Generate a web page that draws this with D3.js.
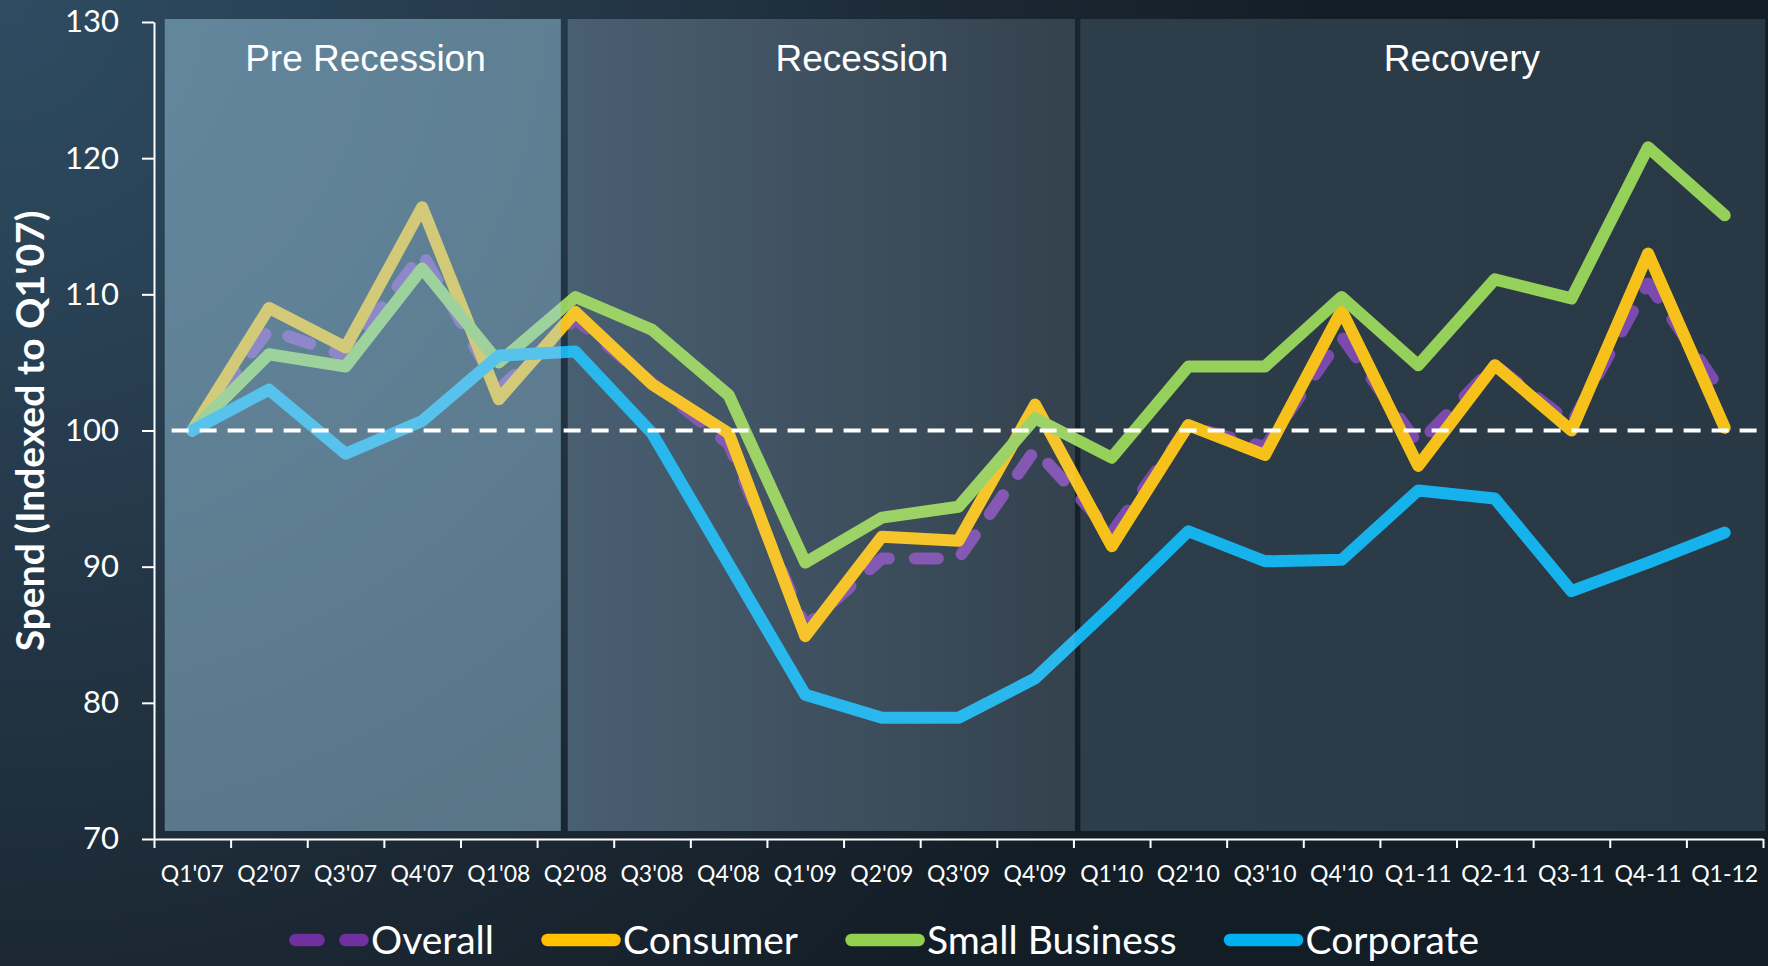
<!DOCTYPE html>
<html>
<head>
<meta charset="utf-8">
<script src="https://cdn.jsdelivr.net/npm/d3@7"></script>
<style>
  html, body { margin: 0; padding: 0; background: #1c2a35; overflow: hidden; }
</style>
</head>
<body>
<svg id="chart" width="1768" height="966"></svg>
<script>
const quarters = ["Q1'07", "Q2'07", "Q3'07", "Q4'07", "Q1'08", "Q2'08", "Q3'08", "Q4'08",
  "Q1'09", "Q2'09", "Q3'09", "Q4'09", "Q1'10", "Q2'10", "Q3'10", "Q4'10",
  'Q1-11', 'Q2-11', 'Q3-11', 'Q4-11', 'Q1-12']

const overall = [100, 107.4, 105.5, 113.0, 103.0, 108.2, 103.5, 99.0, 85.6, 90.6, 90.6,
  98.6, 92.5, 100.3, 98.8, 106.9, 99.0, 104.8, 100.5, 110.8, 102.5]
const consumer = [100, 109.0, 106.1, 116.4, 102.3, 108.7, 103.4, 99.8, 84.9, 92.2, 91.9,
  101.9, 91.5, 100.4, 98.2, 108.8, 97.4, 104.8, 100.0, 113.0, 100.2]
const smallBusiness = [100, 105.6, 104.7, 111.9, 105.0, 109.8, 107.4, 102.6, 90.3, 93.6, 94.4,
  100.9, 98.0, 104.7, 104.7, 109.8, 104.8, 111.1, 109.7, 120.8, 115.8]
const corporate = [100, 103.0, 98.3, 100.7, 105.5, 105.8, 99.8, 90.2, 80.6, 78.9, 78.9,
  81.8, 87.1, 92.6, 90.4, 90.5, 95.6, 95.0, 88.2, 90.3, 92.5]

const yTicks = [70, 80, 90, 100, 110, 120, 130]
const phaseNames = ['Pre Recession', 'Recession', 'Recovery']
const baseline = 100
const yTitle = "Spend (Indexed to Q1'07)"

const W = 1768
const H = 966
const svg = d3.select('#chart')

const x = d3.scaleBand().domain(quarters).range([154, 1763]).padding(0)
// continuous version of the category axis (index units) for spans
const xi = d3.scaleLinear().domain([-0.5, quarters.length - 0.5]).range([154, 1763])
const y = d3.scaleLinear().domain([70, 130]).range([839, 22])
const cx = i => x(quarters[i]) + x.bandwidth() / 2

// phase spans in category units
const phaseStart = [-0.36, 4.9, 11.59]
const phaseEnd = [4.81, 11.52, 20.53]
const phaseLabelAt = [2.26, 8.74, 16.57]
const plotTop = 19
const plotBottom = 831

const series = [
  { name: 'Overall', values: overall, color: '#7b4aae', key: '#7030A0', dashed: true },
  { name: 'Consumer', values: consumer, color: '#f6c11a', key: '#FFC000' },
  { name: 'Small Business', values: smallBusiness, color: '#95d05a', key: '#92D050' },
  { name: 'Corporate', values: corporate, color: '#16b2ec', key: '#00B0F0' }
]

const defs = svg.append('defs')
const bg = defs.append('radialGradient')
  .attr('id', 'bg')
  .attr('gradientUnits', 'userSpaceOnUse')
  .attr('cx', 0).attr('cy', 0).attr('r', 1350)
bg.append('stop').attr('offset', 0).attr('stop-color', 'rgb(46,76,98)')
bg.append('stop').attr('offset', 0.4).attr('stop-color', 'rgb(37,57,74)')
bg.append('stop').attr('offset', 0.75).attr('stop-color', 'rgb(26,38,49)')
bg.append('stop').attr('offset', 1).attr('stop-color', 'rgb(19,29,38)')

const recGrad = defs.append('linearGradient').attr('id', 'recession')
  .attr('x1', 0).attr('x2', 1).attr('y1', 0).attr('y2', 0)
recGrad.append('stop').attr('offset', 0).attr('stop-color', 'rgb(58,82,102)')
recGrad.append('stop').attr('offset', 1).attr('stop-color', 'rgb(35,50,63)')

const recoGrad = defs.append('linearGradient').attr('id', 'recovery')
  .attr('x1', 0).attr('x2', 1).attr('y1', 0).attr('y2', 0)
recoGrad.append('stop').attr('offset', 0).attr('stop-color', 'rgb(45,61,73)')
recoGrad.append('stop').attr('offset', 1).attr('stop-color', 'rgb(40,56,68)')

svg.append('rect').attr('width', W).attr('height', H).attr('fill', 'url(#bg)')

const span = i => ({ x: xi(phaseStart[i]), w: xi(phaseEnd[i]) - xi(phaseStart[i]) })

// panels under the lines
svg.append('rect')
  .attr('x', span(1).x).attr('y', plotTop).attr('width', span(1).w).attr('height', plotBottom - plotTop)
  .attr('fill', 'url(#recession)')
svg.append('rect')
  .attr('x', span(2).x).attr('y', plotTop).attr('width', span(2).w).attr('height', plotBottom - plotTop)
  .attr('fill', 'url(#recovery)')

const line = d3.line()
  .x((d, i) => cx(i))
  .y(d => y(d))

svg.append('g').selectAll('path')
  .data(series)
  .join('path')
  .attr('d', d => line(d.values))
  .attr('fill', 'none')
  .attr('stroke', d => d.color)
  .attr('stroke-width', 12)
  .attr('stroke-linecap', 'round')
  .attr('stroke-linejoin', 'round')
  .attr('stroke-dasharray', d => d.dashed ? '23 26' : null)

// washes over the lines
svg.append('rect')
  .attr('x', span(0).x).attr('y', plotTop).attr('width', span(0).w).attr('height', plotBottom - plotTop)
  .attr('fill', 'rgb(166,212,238)').attr('fill-opacity', 0.45)
svg.append('rect')
  .attr('x', span(1).x).attr('y', plotTop).attr('width', span(1).w).attr('height', plotBottom - plotTop)
  .attr('fill', '#ffffff').attr('fill-opacity', 0.08)

// 100 reference line
svg.append('line')
  .attr('x1', xi(-0.27)).attr('x2', xi(20.5))
  .attr('y1', y(baseline)).attr('y2', y(baseline))
  .attr('stroke', '#ffffff')
  .attr('stroke-width', 4)
  .attr('stroke-dasharray', '17 11')

// phase labels
svg.append('g').selectAll('text')
  .data(phaseNames)
  .join('text')
  .attr('x', (d, i) => xi(phaseLabelAt[i]))
  .attr('y', 71)
  .attr('text-anchor', 'middle')
  .attr('fill', '#ffffff')
  .style('font-family', '"Liberation Sans", Arial, sans-serif')
  .style('font-size', '37px')
  .text(d => d)

// axes
const yAxis = svg.append('g')
  .attr('transform', 'translate(154,0)')
  .call(d3.axisLeft(y).tickValues(yTicks).tickSize(12).tickSizeOuter(0).tickPadding(23))
yAxis.select('.domain').attr('stroke', '#ffffff').attr('stroke-width', 2)
yAxis.selectAll('.tick line').attr('stroke', '#ffffff').attr('stroke-width', 2)
yAxis.selectAll('.tick text')
  .attr('fill', '#ffffff')
  .style('font-family', 'Lato, sans-serif')
  .style('font-size', '31px')

const boundaries = d3.range(quarters.length + 1).map(i => i - 0.5)
const xTicks = svg.append('g')
  .attr('transform', 'translate(0,839)')
  .call(d3.axisBottom(xi).tickValues(boundaries).tickSize(9).tickSizeOuter(0).tickFormat(''))
xTicks.select('.domain').attr('stroke', '#ffffff').attr('stroke-width', 2)
xTicks.selectAll('.tick line').attr('stroke', '#ffffff').attr('stroke-width', 2)

const xLabels = svg.append('g')
  .attr('transform', 'translate(0,839)')
  .call(d3.axisBottom(x).tickSize(0).tickPadding(27))
xLabels.select('.domain').remove()
xLabels.selectAll('.tick text')
  .attr('fill', '#ffffff')
  .style('font-family', 'Lato, sans-serif')
  .style('font-size', '23px')

// y title
svg.append('text')
  .attr('transform', 'translate(44,431) rotate(-90)')
  .attr('text-anchor', 'middle')
  .attr('fill', '#ffffff')
  .style('font-family', 'Lato, sans-serif')
  .style('font-weight', 'bold')
  .style('font-size', '39px')
  .text(yTitle)

// legend, centred on the page
const legend = svg.append('g')
const swatchW = 80
const gapAfterSwatch = 2
const gapBetween = 47
const items = legend.selectAll('g')
  .data(series)
  .join('g')
items.append('line')
  .attr('x1', 6.5).attr('x2', swatchW - 6.5)
  .attr('y1', 940).attr('y2', 940)
  .attr('stroke', d => d.key)
  .attr('stroke-width', 12.5)
  .attr('stroke-linecap', 'round')
  .attr('stroke-dasharray', d => d.dashed ? '23 27' : null)
items.append('text')
  .attr('x', swatchW + gapAfterSwatch)
  .attr('y', 954)
  .attr('fill', '#ffffff')
  .style('font-family', 'Lato, sans-serif')
  .style('font-size', '39px')
  .text(d => d.name)

let offset = 0
const widths = []
items.each(function () {
  const tw = d3.select(this).select('text').node().getComputedTextLength()
  widths.push(swatchW + gapAfterSwatch + tw)
})
const total = d3.sum(widths) + gapBetween * (widths.length - 1)
let start = (W - total) / 2
items.attr('transform', (d, i) => {
  const t = `translate(${start + offset},0)`
  offset += widths[i] + gapBetween
  return t
})
</script>
</body>
</html>
